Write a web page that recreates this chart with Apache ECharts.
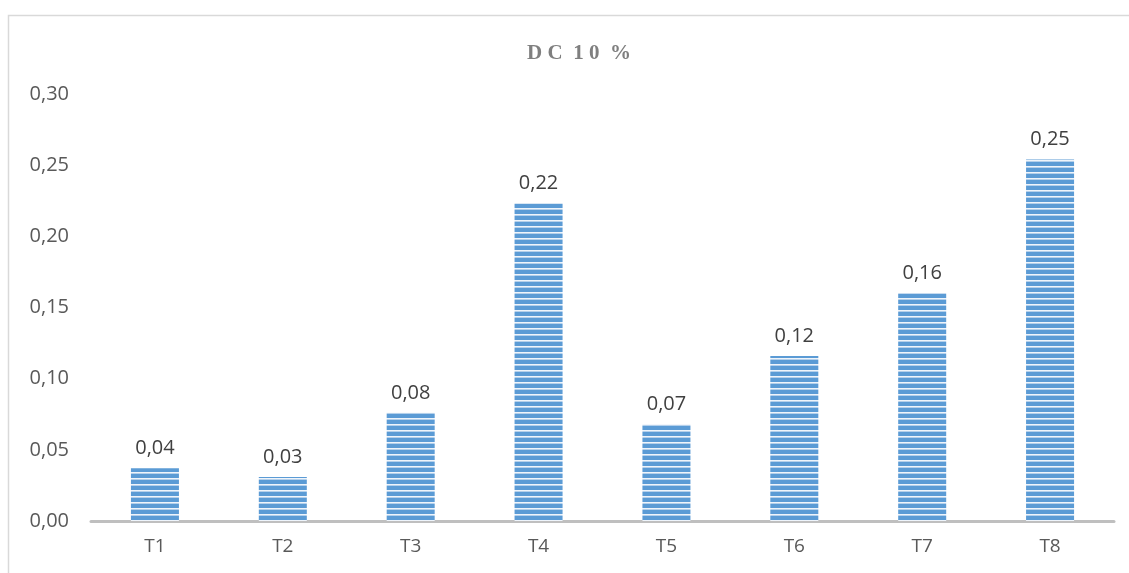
<!DOCTYPE html>
<html>
<head>
<meta charset="utf-8">
<script src="https://cdn.jsdelivr.net/npm/echarts@6/dist/echarts.min.js"></script>
<style>
  html, body { margin: 0; padding: 0; background: #ffffff; }
  #chart { width: 1129px; height: 573px; }
</style>
</head>
<body>
<div id="chart"></div>
<script>
// Treatments and measured values (DC 10 %)
const categories = ['T1', 'T2', 'T3', 'T4', 'T5', 'T6', 'T7', 'T8'];
const values = [0.037, 0.031, 0.076, 0.223, 0.068, 0.116, 0.160, 0.254];
const yTicks = { min: 0, max: 0.30, interval: 0.05 };

// Horizontal-stripe fill for the bars
function stripePattern() {
  const c = document.createElement('canvas');
  c.width = 8; c.height = 6;
  const ctx = c.getContext('2d');
  ctx.fillStyle = '#5b9bd5';
  ctx.fillRect(0, 0, 8, 6);
  ctx.fillStyle = '#eef4fb';
  ctx.fillRect(0, 4, 8, 1.6);
  return c;
}

const fmt = v => (Math.round(v * 100) / 100).toFixed(2).replace('.', ',');

const chart = echarts.init(document.getElementById('chart'), null, { renderer: 'canvas' });
chart.setOption({
  animation: false,
  backgroundColor: '#ffffff',
  graphic: [{
    type: 'rect',
    shape: { x: 8.5, y: 15.5, width: 1200, height: 700 },
    style: { fill: 'none', stroke: '#d9d9d9', lineWidth: 1.5 },
    z: -1
  }],
  title: {
    text: 'D C  1 0  %',
    left: 574,
    textAlign: 'center',
    top: 38,
    textStyle: {
      fontFamily: 'Liberation Serif',
      fontWeight: 'bold',
      fontSize: 21,
      color: '#7f7f7f'
    }
  },
  grid: { left: 91, right: 15, top: 94, bottom: 52 },
  xAxis: {
    type: 'category',
    data: categories,
    axisLine: { lineStyle: { color: '#bfbfbf', width: 3 } },
    axisTick: { show: false },
    axisLabel: { color: '#595959', fontSize: 19, fontFamily: 'Open Sans', margin: 16 }
  },
  yAxis: {
    type: 'value',
    min: yTicks.min,
    max: yTicks.max,
    interval: yTicks.interval,
    axisLine: { show: false },
    axisTick: { show: false },
    splitLine: { show: false },
    axisLabel: {
      color: '#595959', fontSize: 20, fontFamily: 'Open Sans', margin: 22,
      formatter: fmt
    }
  },
  series: [{
    type: 'bar',
    data: values,
    barWidth: 48,
    itemStyle: {
      color: { image: stripePattern(), repeat: 'repeat' }
    },
    label: {
      show: true,
      position: 'top',
      distance: 10,
      color: '#404040',
      fontSize: 20,
      fontFamily: 'Open Sans',
      formatter: p => fmt(p.value)
    }
  }]
});
</script>
</body>
</html>
